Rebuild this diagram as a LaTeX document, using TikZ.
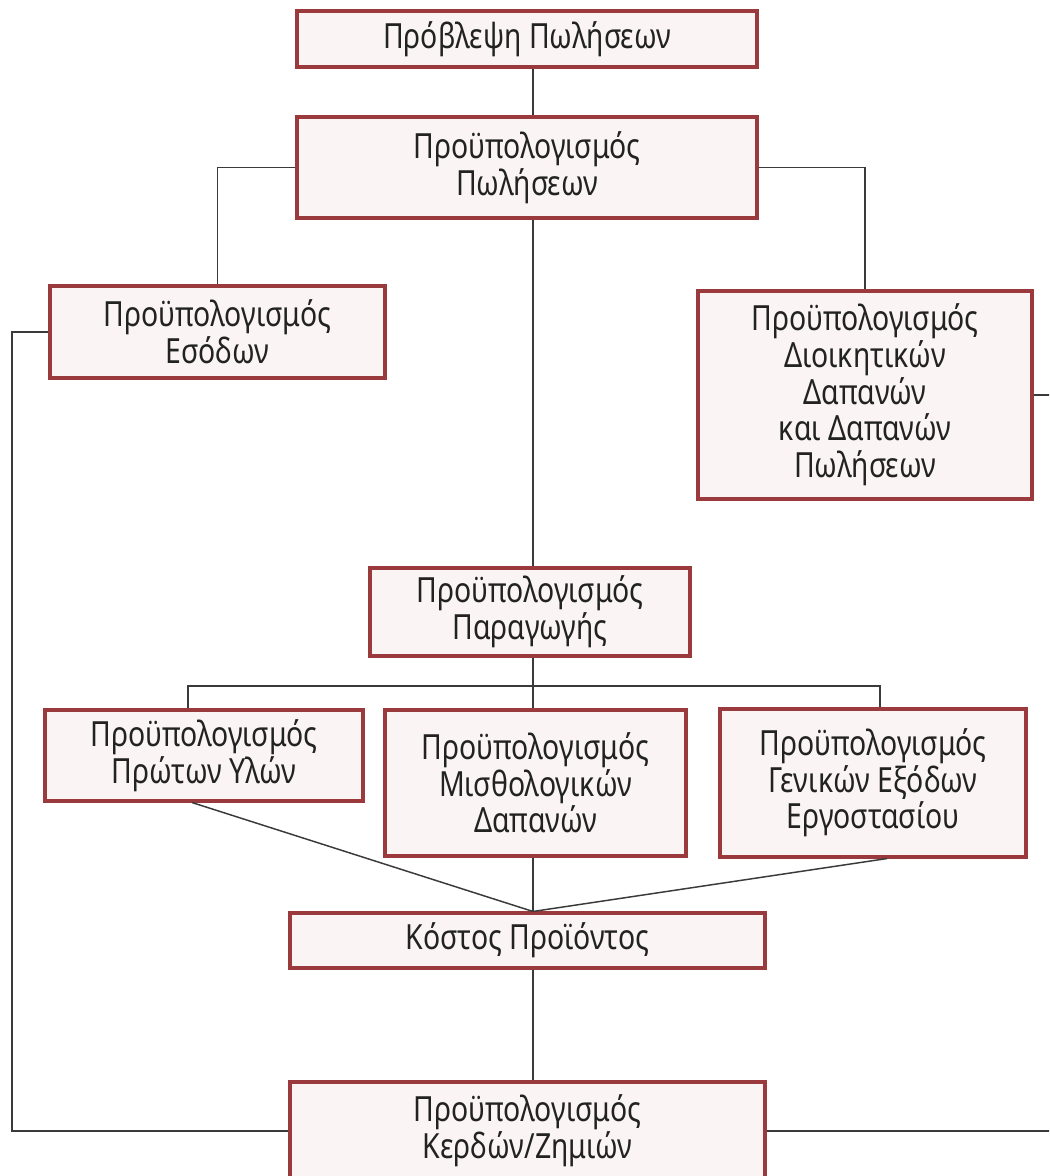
\documentclass[tikz,border=0pt]{standalone}
\usepackage{fontspec}
\setmainfont{Noto Sans}[FakeStretch=0.82]
\begin{document}
\begin{tikzpicture}[x=0.75pt,y=-0.75pt,
  box/.style={draw=boxred, line width=2.3pt, fill=boxfill, text=txtgray, inner sep=0pt,
    align=center, font=\fontsize{26}{27.5}\selectfont},
  conn/.style={draw=lineg, line width=1.1pt}]
\definecolor{boxred}{HTML}{9A3A3C}
\definecolor{boxfill}{HTML}{FAF5F4}
\definecolor{txtgray}{HTML}{222222}
\definecolor{lineg}{HTML}{3A3A3A}
\useasboundingbox (0,0) rectangle (1049,1176);
\clip (0,0) rectangle (1049,1176);
\fill[white] (0,0) rectangle (1049,1176);
\coordinate (sp) at (533,0);
\coordinate (bus) at (533,686);
\coordinate (lft) at (12,0);
\coordinate (rgt) at (1065,0);
% boxes
\node[box, minimum width=345pt, minimum height=42pt] (A) at (527,39) {Πρόβλεψη Πωλήσεων};
\node[box, minimum width=345pt, minimum height=75.75pt] (B) at (527,167.5) {Προϋπολογισμός\\Πωλήσεων};
\node[box, minimum width=251.25pt, minimum height=69pt] (C) at (217.5,332) {Προϋπολογισμός\\Εσόδων};
\node[box, minimum width=250.5pt, minimum height=156pt] (D) at (865,395) {Προϋπολογισμός\\Διοικητικών\\Δαπανών\\και Δαπανών\\Πωλήσεων};
\node[box, minimum width=240pt, minimum height=66pt] (E) at (530,612) {Προϋπολογισμός\\Παραγωγής};
\node[box, minimum width=238.5pt, minimum height=68.25pt] (F) at (204,755.5) {Προϋπολογισμός\\Πρώτων Υλών};
\node[box, minimum width=225.75pt, minimum height=109.5pt] (G) at (535.5,783) {Προϋπολογισμός\\Μισθολογικών\\Δαπανών};
\node[box, minimum width=229.5pt, minimum height=111pt] (H) at (873,783) {Προϋπολογισμός\\Γενικών Εξόδων\\Εργοστασίου};
\node[box, minimum width=356.25pt, minimum height=41.25pt] (I) at (527.5,940.5) {Κόστος Προϊόντος};
\node[box, minimum width=356.25pt, minimum height=73.5pt] (J) at (527.5,1131) {Προϋπολογισμός\\Κερδών/Ζημιών};
% connectors
\draw[conn] (A.south -| sp) -- (B.north -| sp);
\draw[conn] (B.west) -| (C.north);
\draw[conn] (B.east) -| (D.north);
\draw[conn] (B.south -| sp) -- (E.north -| sp);
\draw[conn] (E.south -| sp) -- (bus);
\draw[conn] (F.north -| 188,0) |- (bus) -| (H.north -| 880,0);
\draw[conn] (bus) -- (G.north -| sp);
\draw[conn] (F.south -| 192,0) -- (I.north -| sp);
\draw[conn] (G.south -| sp) -- (I.north -| sp);
\draw[conn] (H.south -| 887,0) -- (I.north -| sp);
\draw[conn] (I.south -| sp) -- (J.north -| sp);
\draw[conn] (C.west) -| (lft |- J.west) -- (J.west);
\draw[conn] (D.east) -| (rgt |- J.east) -- (J.east);
\end{tikzpicture}
\end{document}
